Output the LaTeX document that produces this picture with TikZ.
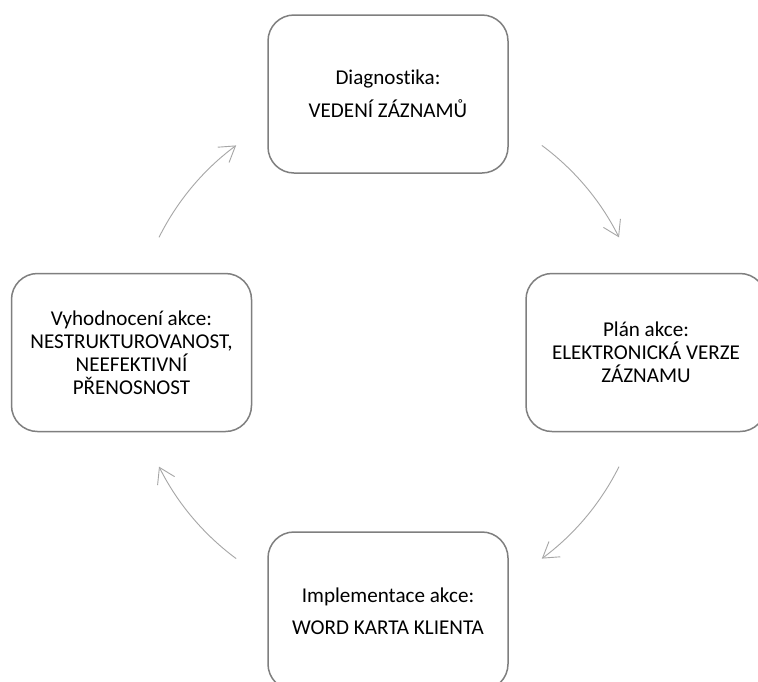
\documentclass[tikz,border=0pt]{standalone}
\usepackage{fontspec}
\setmainfont{Carlito}[Ligatures=NoCommon]
\usetikzlibrary{arrows.meta}
\definecolor{boxline}{HTML}{7F7F7F}
\definecolor{cycleline}{HTML}{A6A6A6}
\begin{document}
\begin{tikzpicture}[x=1pt,y=-1pt,
  stage/.style={draw=boxline, line width=1.5pt, rounded corners=26pt,
    minimum width=240pt, minimum height=158pt, align=center,
    font=\fontsize{21.1}{23}\selectfont, text=black, inner sep=0pt},
  cyclearrow/.style={draw=cycleline, line width=0.9pt,
    -{Straight Barb[length=15pt,width=19pt,line width=0.9pt]}}]
  \clip (0,0) rectangle (758,681);
  \fill[white] (0,0) rectangle (758,681);

  % the four stages of the cycle
  \node[stage] (diag) at (388,94) {Diagnostika:\\[10pt]VEDENÍ ZÁZNAMŮ};
  \node[stage] (plan) at (646,352.5) {Plán akce:\\ELEKTRONICKÁ VERZE\\ZÁZNAMU};
  \node[stage] (impl) at (388,611) {Implementace akce:\\[9pt]WORD KARTA KLIENTA};
  \node[stage] (eval) at (131.5,352.5) {Vyhodnocení akce:\\NESTRUKTUROVANOST,\\NEEFEKTIVNÍ\\PŘENOSNOST};

  % arcs of one circle linking the stages
  \coordinate (hub) at (389,352);
  \draw[cyclearrow] (hub) ++(53.5:257pt) arc[start angle=53.5, end angle=26.5, radius=257pt];
  \draw[cyclearrow] (hub) ++(-26.5:257pt) arc[start angle=-26.5, end angle=-53.5, radius=257pt];
  \draw[cyclearrow] (hub) ++(233.5:257pt) arc[start angle=233.5, end angle=206.5, radius=257pt];
  \draw[cyclearrow] (hub) ++(153.5:257pt) arc[start angle=153.5, end angle=126.5, radius=257pt];
\end{tikzpicture}
\end{document}
